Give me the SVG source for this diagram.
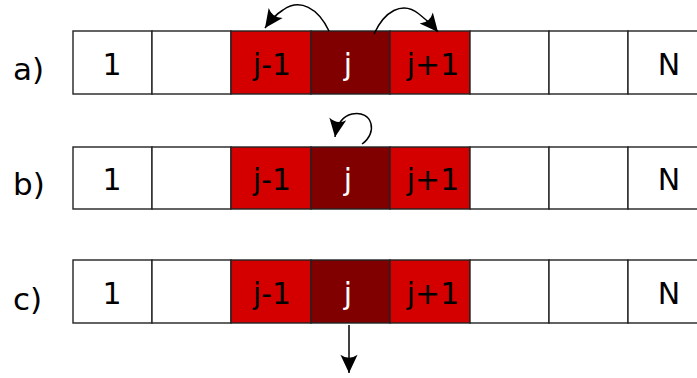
<svg xmlns="http://www.w3.org/2000/svg" width="697" height="378" viewBox="0 0 697 378">
<defs>
<style>
.cell{fill:#fff;stroke:#222;stroke-width:1.4}
.r{fill:#d40000;stroke:#222;stroke-width:1.4}
.d{fill:#800000;stroke:#222;stroke-width:1.4}
.t{font-family:"DejaVu Sans",sans-serif;font-size:30px;text-anchor:middle;fill:#000}
.tw{font-family:"DejaVu Sans",sans-serif;font-size:30px;text-anchor:middle;fill:#fff}
.lab{font-family:"DejaVu Sans",sans-serif;font-size:31px;fill:#000}
.c{fill:none;stroke:#000;stroke-width:1.5}
</style>
<marker id="ah" markerUnits="userSpaceOnUse" markerWidth="22" markerHeight="22" viewBox="-16 -8 18 16" refX="0" refY="0" orient="auto">
<path d="M0,0 L-15,-7 Q-10,0 -15,7 Z" fill="#000"/>
</marker>
</defs>
<g id="row-a">
<text class="lab" x="13" y="80">a)</text>
<g id="a1"><rect class="cell" x="73" y="31" width="79" height="63"/><text class="t" x="112" y="75">1</text></g>
<g id="a2"><rect class="cell" x="152" y="31" width="79" height="63"/></g>
<g id="a3"><rect class="r" x="231" y="31" width="80" height="63"/><text class="t" x="272" y="75">j-1</text></g>
<g id="a4"><rect class="d" x="311" y="31" width="79" height="63"/><text class="tw" x="348" y="75">j</text></g>
<g id="a5"><rect class="r" x="390" y="31" width="80" height="63"/><text class="t" x="433" y="75">j+1</text></g>
<g id="a6"><rect class="cell" x="470" y="31" width="79" height="63"/></g>
<g id="a7"><rect class="cell" x="549" y="31" width="79" height="63"/></g>
<g id="a8"><rect class="cell" x="628" y="31" width="80" height="63"/><text class="t" x="669" y="75">N</text></g>
</g>
<g id="row-b">
<text class="lab" x="13" y="195">b)</text>
<g id="b1"><rect class="cell" x="73" y="147" width="79" height="62"/><text class="t" x="112" y="190">1</text></g>
<g id="b2"><rect class="cell" x="152" y="147" width="79" height="62"/></g>
<g id="b3"><rect class="r" x="231" y="147" width="80" height="62"/><text class="t" x="272" y="190">j-1</text></g>
<g id="b4"><rect class="d" x="311" y="147" width="79" height="62"/><text class="tw" x="348" y="190">j</text></g>
<g id="b5"><rect class="r" x="390" y="147" width="80" height="62"/><text class="t" x="433" y="190">j+1</text></g>
<g id="b6"><rect class="cell" x="470" y="147" width="79" height="62"/></g>
<g id="b7"><rect class="cell" x="549" y="147" width="79" height="62"/></g>
<g id="b8"><rect class="cell" x="628" y="147" width="80" height="62"/><text class="t" x="669" y="190">N</text></g>
</g>
<g id="row-c">
<text class="lab" x="13" y="310">c)</text>
<g id="c1"><rect class="cell" x="73" y="260" width="79" height="63"/><text class="t" x="112" y="304">1</text></g>
<g id="c2"><rect class="cell" x="152" y="260" width="79" height="63"/></g>
<g id="c3"><rect class="r" x="231" y="260" width="80" height="63"/><text class="t" x="272" y="304">j-1</text></g>
<g id="c4"><rect class="d" x="311" y="260" width="79" height="63"/><text class="tw" x="348" y="304">j</text></g>
<g id="c5"><rect class="r" x="390" y="260" width="80" height="63"/><text class="t" x="433" y="304">j+1</text></g>
<g id="c6"><rect class="cell" x="470" y="260" width="79" height="63"/></g>
<g id="c7"><rect class="cell" x="549" y="260" width="79" height="63"/></g>
<g id="c8"><rect class="cell" x="628" y="260" width="80" height="63"/><text class="t" x="669" y="304">N</text></g>
</g>
<g id="connectors">
<path class="c" d="M329,31 C318,8 300,-2 283,10 C275,15 270,21 265,28" marker-end="url(#ah)"/>
<path class="c" d="M374,34 C384,12 402,0 419,14 C427,20 433,26 438,32" marker-end="url(#ah)"/>
<path class="c" d="M362,144 C378,133 373,110 352,114 C343,116 337,124 335,137" marker-end="url(#ah)"/>
<path class="c" d="M349,325 L349,373" marker-end="url(#ah)"/>
</g>
</svg>
